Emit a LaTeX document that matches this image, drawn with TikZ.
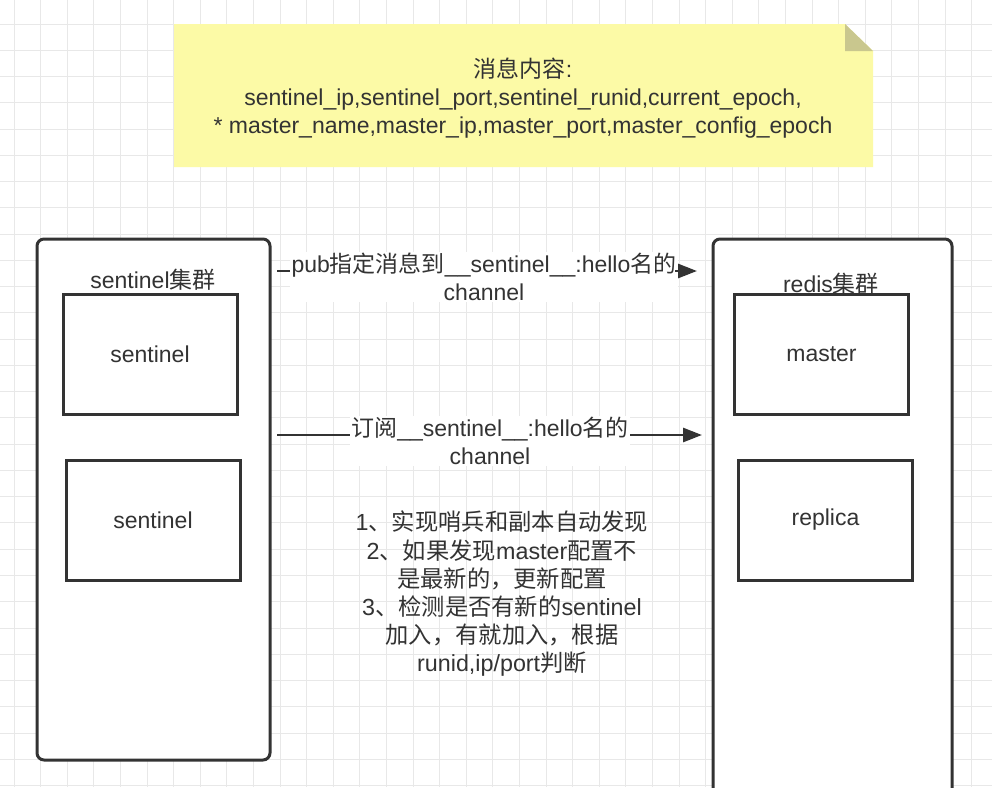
\documentclass[tikz,border=0pt]{standalone}
\usepackage{fontspec}
\setmainfont{Liberation Sans}
\newfontfamily\cjk{Noto Sans CJK SC}
\usetikzlibrary{arrows.meta}
\definecolor{ink}{HTML}{333333}
\definecolor{gridc}{HTML}{E8E8E8}
\definecolor{notey}{HTML}{FCFAA6}
\definecolor{notefold}{HTML}{C9C78E}
\begin{document}
\begin{tikzpicture}[x=1pt,y=-1pt,
  gridline/.style={draw=gridc, line width=0.9pt},
  container/.style={draw=ink, line width=3pt, rounded corners=7pt, fill=white},
  boxin/.style={draw=ink, line width=3pt, fill=white, minimum width=174pt, minimum height=120pt, text=ink, font=\fontsize{23}{27.5}\selectfont},
  txt/.style={text=ink, font=\fontsize{23}{27.5}\selectfont, align=center, inner sep=0pt},
  notetxt/.style={text=ink, font=\fontsize{23}{28}\selectfont, align=center, inner sep=0pt},
  bigtxt/.style={text=ink, font=\fontsize{23.3}{28.2}\selectfont, align=center, inner sep=0pt},
  wire/.style={draw=ink, line width=2.8pt},
  flow/.style={wire, -{Triangle[length=19pt,width=14pt]}},
  lbl/.style={txt, fill=white, inner sep=1.5pt}]
\useasboundingbox (0,0) rectangle (992,787);
\clip (0,0) rectangle (992,787);
\fill[white] (0,0) rectangle (992,787);
% grid
\foreach \i in {0,...,37} \draw[gridline] ({14+26.6*\i},0) -- ({14+26.6*\i},787);
\foreach \j in {0,...,30} \draw[gridline] (0,{24+26.26*\j}) -- (992,{24+26.26*\j});
% note
\fill[notey] (174,24) -- (845,24) -- (873,51) -- (873,167) -- (174,167) -- cycle;
\fill[notefold] (845,24) -- (845,51) -- (873,51) -- cycle;
\node[notetxt] (note) at (523,98) {{\cjk 消息内容}:\\sentinel\_ip,sentinel\_port,sentinel\_runid,current\_epoch,\\* master\_name,master\_ip,master\_port,master\_config\_epoch};
% containers
\node[container, minimum width=233pt, minimum height=521pt] (left) at (153.5,499.5) {};
\node[container, minimum width=239pt, minimum height=581pt] (right) at (832.5,529.5) {};
\node[txt] (lefttitle) at (153,280) {sentinel{\cjk 集群}};
\node[txt] (righttitle) at (831,284) {redis{\cjk 集群}};
\node[boxin] (s1) at (150,354) {sentinel};
\node[boxin] (s2) at (153,520.5) {sentinel};
\node[boxin] (m) at (821.5,354) {master};
\node[boxin] (r) at (825.5,520) {replica};
% arrows
\coordinate (a1s) at (277,271);
\coordinate (a1e) at (697,271);
\coordinate (a2s) at (277,435);
\coordinate (a2e) at (702,435);
\node[lbl] (l1) at (484,277) {pub{\cjk 指定消息到}\_\_sentinel\_\_:hello{\cjk 名的}\\channel};
\node[lbl] (l2) at (490,441) {{\cjk 订阅}\_\_sentinel\_\_:hello{\cjk 名的}\\channel};
\draw[wire] (a1s) -- (a1s -| l1.west);
\draw[flow] ([xshift=-3pt]a1e -| l1.east) -- (a1e);
\draw[wire] (a2s) -- (a2s -| l2.west);
\draw[flow] (a2e -| l2.east) -- (a2e);
% description
\node[bigtxt] (desc) at (502,594) {1{\cjk 、实现哨兵和副本自动发现}\\2{\cjk 、如果发现}master{\cjk 配置不}\\{\cjk 是最新的，更新配置}\\3{\cjk 、检测是否有新的}sentinel\\{\cjk 加入，有就加入，根据}\\runid,ip/port{\cjk 判断}};
\end{tikzpicture}
\end{document}
